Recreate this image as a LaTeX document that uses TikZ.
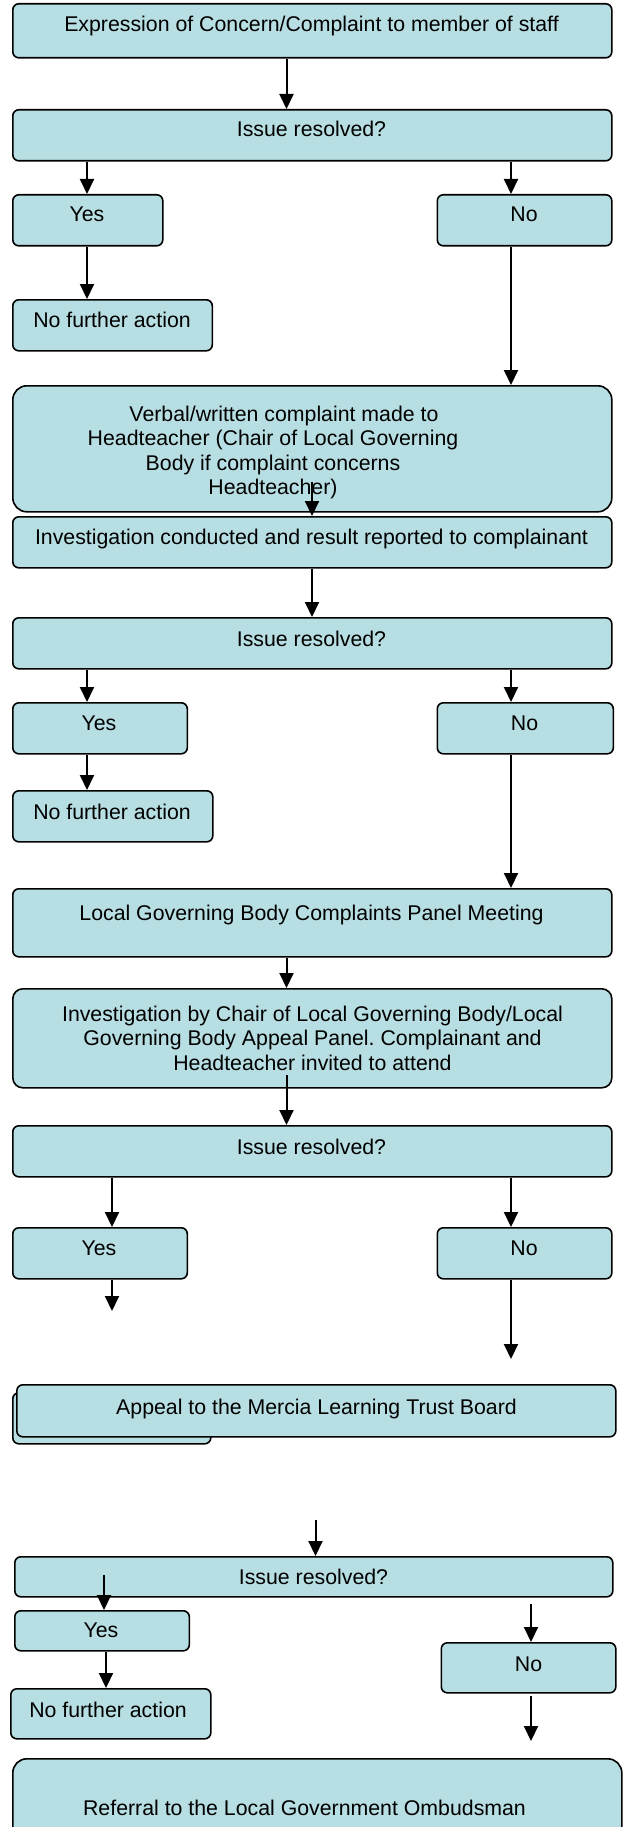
\documentclass[tikz,border=0pt]{standalone}
\usepackage{fontspec}
\setmainfont{Liberation Sans}
\usetikzlibrary{arrows.meta, calc}
\definecolor{PaleAqua}{RGB}{183, 222, 226}
\frenchspacing

\tikzset{
  box/.style={draw=black, line width=1.6pt, fill=PaleAqua, rounded corners=6pt, anchor=north west, inner sep=0pt},
  txt/.style={anchor=base, align=center, inner sep=0pt, font=\fontsize{21.3}{24.5}\selectfont},
  flow/.style={-{Triangle[length=15pt, width=14pt]}, line width=2pt}
}

\begin{document}
\begin{tikzpicture}[x=1pt, y=-1pt]
    \useasboundingbox (0,0) rectangle (622,1827);

    % Stage 1
    \node[box, minimum width=599pt, minimum height=54pt] (start) at (12,3) {};
    \node[txt] (startt) at (311.5,32) {Expression of Concern/Complaint to member of staff};
    \node[box, minimum width=599pt, minimum height=51pt] (ir1) at (12,109) {};
    \node[txt] (ir1t) at (311.5,137) {Issue resolved?};
    \node[box, minimum width=150pt, minimum height=51pt] (yes1) at (12,194) {};
    \node[txt] (yes1t) at (87,222) {Yes};
    \node[box, minimum width=174.5pt, minimum height=51pt] (no1) at (436.5,194) {};
    \node[txt] (no1t) at (524,222) {No};
    \node[box, minimum width=199.5pt, minimum height=51pt] (nfa1) at (12,299) {};
    \node[txt] (nfa1t) at (112,327) {No further action};

    % Stage 2 (last line baseline)
    \node[box, rounded corners=14pt, minimum width=599pt, minimum height=126pt] (verbal) at (12,385) {};
    \node[txt] (verbalt) at (273,494.5) {\hspace*{22pt}Verbal/written complaint made to\\Headteacher (Chair of Local Governing\\Body if complaint concerns\\Headteacher)};
    \node[box, minimum width=599pt, minimum height=51pt] (inv1) at (12,516) {};
    \node[txt] (inv1t) at (311.5,544) {Investigation conducted and result reported to complainant};
    \node[box, minimum width=599pt, minimum height=51pt] (ir2) at (12,617) {};
    \node[txt] (ir2t) at (311.5,646) {Issue resolved?};
    \node[box, minimum width=174.5pt, minimum height=51pt] (yes2) at (12,702) {};
    \node[txt] (yes2t) at (99,730) {Yes};
    \node[box, minimum width=176pt, minimum height=51pt] (no2) at (436.5,702) {};
    \node[txt] (no2t) at (524.5,730) {No};
    \node[box, minimum width=200pt, minimum height=51pt] (nfa2) at (12,790) {};
    \node[txt] (nfa2t) at (112,819) {No further action};

    % Stage 3
    \node[box, minimum width=599pt, minimum height=68pt] (lgb) at (12,888) {};
    \node[txt] (lgbt) at (311.5,920) {Local Governing Body Complaints Panel Meeting};
    \node[box, rounded corners=10pt, minimum width=599pt, minimum height=99pt] (inv2) at (12,988) {};
    \node[txt] (inv2t) at (312.5,1070) {Investigation by Chair of Local Governing Body/Local\\Governing Body Appeal Panel. Complainant and\\Headteacher invited to attend};
    \node[box, minimum width=599pt, minimum height=51pt] (ir3) at (12,1125) {};
    \node[txt] (ir3t) at (311.5,1154) {Issue resolved?};
    \node[box, minimum width=174.5pt, minimum height=51pt] (yes3) at (12,1227) {};
    \node[txt] (yes3t) at (99,1255) {Yes};
    \node[box, minimum width=174.5pt, minimum height=51pt] (no3) at (436.5,1227) {};
    \node[txt] (no3t) at (524,1255) {No};

    % Stage 4
    \node[box, minimum width=198pt, minimum height=51pt] (hidden) at (12,1392) {};
    \node[box, minimum width=599pt, minimum height=52pt] (appeal) at (16,1384) {};
    \node[txt] (appealt) at (316.5,1414) {Appeal to the Mercia Learning Trust Board};
    \node[box, minimum width=598pt, minimum height=40pt] (ir4) at (14,1556) {};
    \node[txt] (ir4t) at (313.5,1584) {Issue resolved?};
    \node[box, minimum width=174.5pt, minimum height=40pt] (yes4) at (14,1610) {};
    \node[txt] (yes4t) at (101,1637) {Yes};
    \node[box, minimum width=200pt, minimum height=50pt] (nfa3) at (10,1688) {};
    \node[txt] (nfa3t) at (108,1717) {No further action};
    \node[box, minimum width=174.5pt, minimum height=50pt] (no4) at (440.5,1642) {};
    \node[txt] (no4t) at (528.5,1671) {No};
    \node[box, rounded corners=14pt, minimum width=609pt, minimum height=100pt] (final) at (12,1758) {};
    \node[txt] (finalt) at (304.5,1815) {Referral to the Local Government Ombudsman};

    % Spalten und freie Enden
    \coordinate (colA) at (286.5,0);
    \coordinate (colB) at (87,0);
    \coordinate (colC) at (511,0);
    \coordinate (colD) at (312,0);
    \coordinate (colE) at (112,0);
    \coordinate (colF) at (531,0);
    \coordinate (v1) at (312,482);
    \coordinate (v2) at (286.5,1075);
    \coordinate (e1) at (112,1311);
    \coordinate (e2) at (511,1359);
    \coordinate (s1) at (315.5,1520);
    \coordinate (s2) at (104,1575);
    \coordinate (s3) at (104,1610);
    \coordinate (s4) at (106,1652);
    \coordinate (s5) at (106,1688);
    \coordinate (s6) at (531,1604);
    \coordinate (s7) at (531,1696);
    \coordinate (e3) at (531,1741);

    % Pfeile
    \draw[flow] (start.south -| colA) -- (ir1.north -| colA);
    \draw[flow] (ir1.south -| colB) -- (yes1.north -| colB);
    \draw[flow] (ir1.south -| colC) -- (no1.north -| colC);
    \draw[flow] (yes1.south -| colB) -- (nfa1.north -| colB);
    \draw[flow] (no1.south -| colC) -- (verbal.north -| colC);
    \draw[flow] (v1) -- (inv1.north -| colD);
    \draw[flow] (inv1.south -| colD) -- (ir2.north -| colD);
    \draw[flow] (ir2.south -| colB) -- (yes2.north -| colB);
    \draw[flow] (ir2.south -| colC) -- (no2.north -| colC);
    \draw[flow] (yes2.south -| colB) -- (nfa2.north -| colB);
    \draw[flow] (no2.south -| colC) -- (lgb.north -| colC);
    \draw[flow] (lgb.south -| colA) -- (inv2.north -| colA);
    \draw[flow] (v2) -- (ir3.north -| colA);
    \draw[flow] (ir3.south -| colE) -- (yes3.north -| colE);
    \draw[flow] (ir3.south -| colC) -- (no3.north -| colC);
    \draw[flow] (yes3.south -| colE) -- (e1);
    \draw[flow] (no3.south -| colC) -- (e2);
    \draw[flow] (s1) -- (ir4.north -| s1);
    \draw[flow] (s2) -- (s3);
    \draw[flow] (s4) -- (s5);
    \draw[flow] (s6) -- (no4.north -| colF);
    \draw[flow] (s7) -- (e3);
\end{tikzpicture}
\end{document}
